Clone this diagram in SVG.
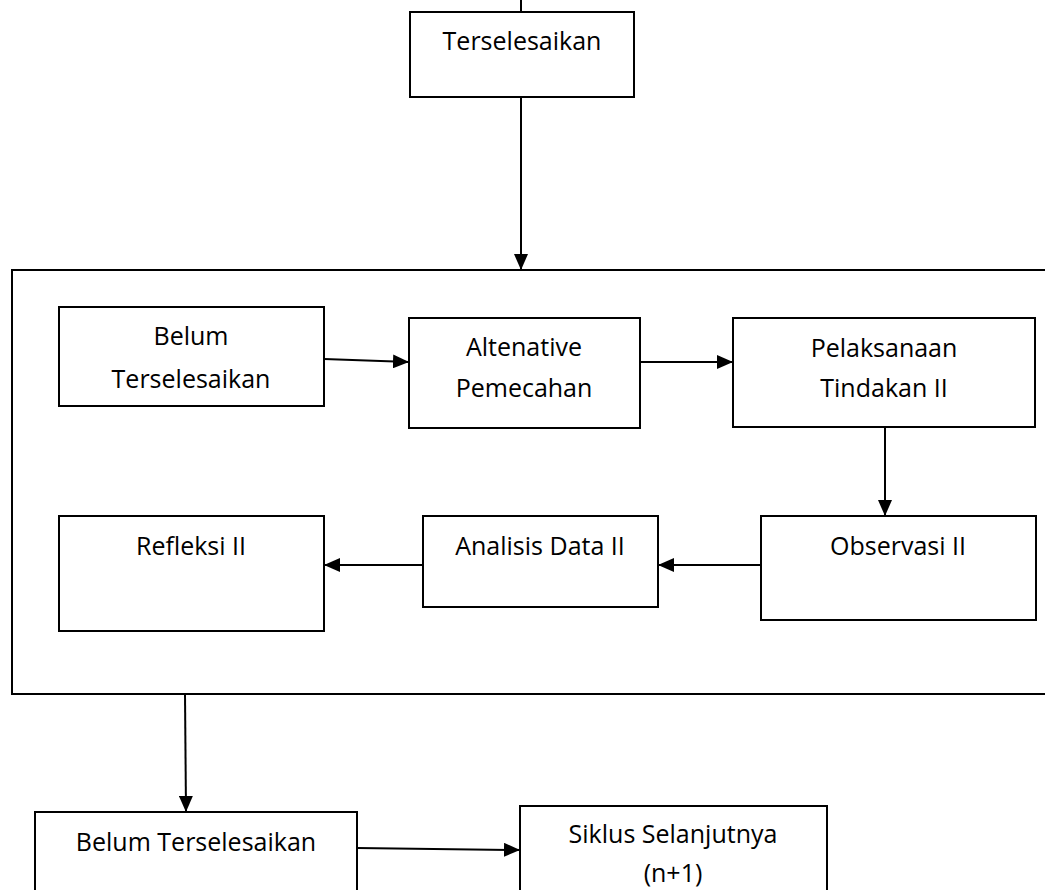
<svg xmlns="http://www.w3.org/2000/svg" width="1045" height="890" viewBox="0 0 1045 890">
<style>
.box{fill:#fff;stroke:#000;stroke-width:2}
.t{font-family:"Open Sans","Liberation Sans",sans-serif;font-size:25px;fill:#000;text-anchor:middle}
.c{stroke:#000;stroke-width:2;fill:none}
</style>
<defs>
<marker id="ah" markerWidth="16" markerHeight="14" refX="16" refY="7" orient="auto" markerUnits="userSpaceOnUse">
<path d="M0,0 L16,7 L0,14 Z" fill="#000"/>
</marker>
</defs>
<rect width="1045" height="890" fill="#fff"/>
<g id="container"><rect class="box" x="12" y="270" width="1045" height="424"/></g>
<g id="n-terselesaikan"><rect class="box" x="410" y="12" width="224" height="85"/><text class="t" x="522" y="50">Terselesaikan</text></g>
<g id="n-belum1"><rect class="box" x="59" y="307" width="265" height="99"/><text class="t" x="191" y="345">Belum</text><text class="t" x="191" y="388">Terselesaikan</text></g>
<g id="n-alt"><rect class="box" x="409" y="318" width="231" height="110"/><text class="t" x="524" y="356">Altenative</text><text class="t" x="524" y="397">Pemecahan</text></g>
<g id="n-pelaksanaan"><rect class="box" x="733" y="318" width="302" height="109"/><text class="t" x="884" y="357">Pelaksanaan</text><text class="t" x="884" y="397">Tindakan II</text></g>
<g id="n-observasi"><rect class="box" x="761" y="516" width="275" height="104"/><text class="t" x="898" y="555">Observasi II</text></g>
<g id="n-analisis"><rect class="box" x="423" y="516" width="235" height="91"/><text class="t" x="540" y="555">Analisis Data II</text></g>
<g id="n-refleksi"><rect class="box" x="59" y="516" width="265" height="115"/><text class="t" x="191" y="555">Refleksi II</text></g>
<g id="n-belum2"><rect class="box" x="35" y="812" width="322" height="100"/><text class="t" x="196" y="851">Belum Terselesaikan</text></g>
<g id="n-siklus"><rect class="box" x="520" y="806" width="307" height="100"/><text class="t" x="673" y="843">Siklus Selanjutnya</text><text class="t" x="673" y="882">(n+1)</text></g>
<g id="connectors">
<line class="c" x1="521" y1="0" x2="521" y2="12"/>
<line class="c" x1="521" y1="97" x2="521" y2="270" marker-end="url(#ah)"/>
<line class="c" x1="324" y1="359" x2="409" y2="362" marker-end="url(#ah)"/>
<line class="c" x1="640" y1="362" x2="733" y2="362" marker-end="url(#ah)"/>
<line class="c" x1="885" y1="427" x2="885" y2="516" marker-end="url(#ah)"/>
<line class="c" x1="761" y1="565" x2="658" y2="565" marker-end="url(#ah)"/>
<line class="c" x1="423" y1="565" x2="324" y2="565" marker-end="url(#ah)"/>
<line class="c" x1="185" y1="694" x2="186" y2="812" marker-end="url(#ah)"/>
<line class="c" x1="357" y1="848" x2="520" y2="850" marker-end="url(#ah)"/>
</g>
</svg>
